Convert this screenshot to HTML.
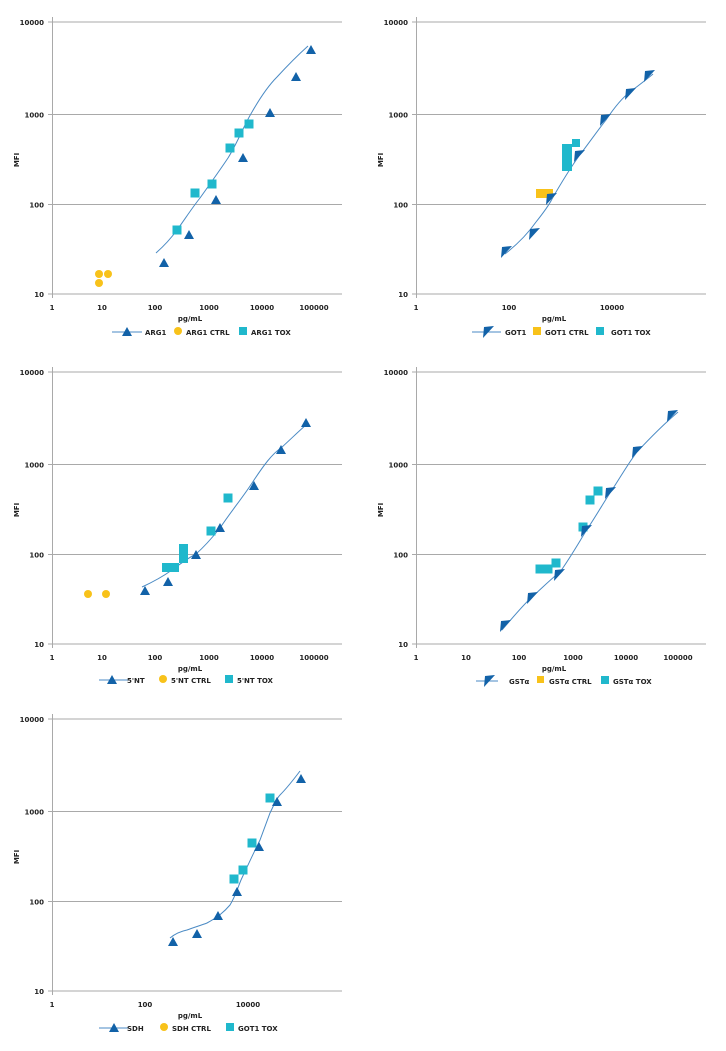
<!DOCTYPE html>
<html><head><meta charset="utf-8"><style>
html,body{margin:0;padding:0;background:#fff;}
svg{display:block;}
text{font-family:"DejaVu Sans","Liberation Sans",sans-serif;font-size:7px;fill:#222;font-weight:bold;}
.g{stroke:#a9a9a9;stroke-width:1;fill:none;}
.c{stroke:#4a8ac4;stroke-width:1;fill:none;}
.t{fill:#1262a8;}
.s{fill:#20b8cc;}
.y{fill:#f8c21a;}
</style></head><body>
<svg width="726" height="1051" viewBox="0 0 726 1051" xmlns="http://www.w3.org/2000/svg">
<defs>
<polygon id="tri" class="t" points="0,-5 5,4 -5,4"/>
<polygon id="arr" class="t" points="-4,-5 6,-6 -5,6"/>
<rect id="sq" class="s" x="-4.5" y="-4.5" width="9" height="9"/>
<g id="frame">
<line class="g" x1="48" y1="22" x2="342" y2="22"/>
<line class="g" x1="48" y1="114.5" x2="342" y2="114.5"/>
<line class="g" x1="48" y1="204.5" x2="342" y2="204.5"/>
<line class="g" x1="48" y1="294" x2="342" y2="294"/>
<line class="g" x1="52.5" y1="17" x2="52.5" y2="298"/>
<text x="44" y="25" text-anchor="end">10000</text>
<text x="44" y="117.5" text-anchor="end">1000</text>
<text x="44" y="207.5" text-anchor="end">100</text>
<text x="44" y="297" text-anchor="end">10</text>
<text x="190" y="321" text-anchor="middle">pg/mL</text>
<text transform="translate(19,160) rotate(-90)" text-anchor="middle">MFI</text>
</g>
<g id="x6">
<text x="52" y="310" text-anchor="middle">1</text>
<text x="102" y="310" text-anchor="middle">10</text>
<text x="155" y="310" text-anchor="middle">100</text>
<text x="209" y="310" text-anchor="middle">1000</text>
<text x="262" y="310" text-anchor="middle">10000</text>
<text x="314" y="310" text-anchor="middle">100000</text>
</g>
<g id="x3">
<text x="52" y="310" text-anchor="middle">1</text>
<text x="145" y="310" text-anchor="middle">100</text>
<text x="248" y="310" text-anchor="middle">10000</text>
</g>
</defs>

<!-- Chart 1 ARG1 -->
<g>
<use href="#frame"/><use href="#x6"/>
<path class="c" d="M156,253 C165,245 172,237 177,230 C185,219 192,208 200,198 C210,184 220,170 228,158 C238,142 244,125 252,112 C260,98 268,86 277,77 C288,65 298,55 308,46"/>
<circle class="y" cx="99" cy="274" r="4"/><circle class="y" cx="108" cy="274" r="4"/><circle class="y" cx="99" cy="283" r="4"/>
<use href="#tri" x="164" y="263"/><use href="#tri" x="189" y="235"/><use href="#tri" x="216" y="200"/><use href="#tri" x="243" y="158"/><use href="#tri" x="270" y="113"/><use href="#tri" x="296" y="77"/><use href="#tri" x="311" y="50"/>
<use href="#sq" x="177" y="230"/><use href="#sq" x="195" y="193"/><use href="#sq" x="212" y="184"/><use href="#sq" x="230" y="148"/><use href="#sq" x="239" y="133"/><use href="#sq" x="249" y="124"/>
<line class="c" x1="112" y1="332" x2="142" y2="332"/><use href="#tri" x="127" y="332"/>
<text x="145" y="335">ARG1</text>
<circle class="y" cx="178" cy="331" r="4"/><text x="186" y="335">ARG1 CTRL</text>
<rect class="s" x="239" y="327" width="8" height="8"/><text x="251" y="335">ARG1 TOX</text>
</g>

<!-- Chart 2 GOT1 -->
<g transform="translate(364,0)">
<use href="#frame"/><use href="#x3"/>
<path class="c" d="M141,254 C155,243 165,232 172,222 C180,212 185,205 188,199 C196,185 205,170 215,156 C225,143 234,130 242,120 C250,108 258,98 266,92 C275,85 282,80 289,74"/>
<rect class="y" x="172" y="189" width="17" height="9"/>
<rect class="s" x="198" y="144" width="10" height="27"/><rect class="s" x="208" y="139" width="8" height="8"/>
<use href="#arr" x="142" y="252"/><use href="#arr" x="170" y="234"/><use href="#arr" x="187" y="199"/><use href="#arr" x="215" y="156"/><use href="#arr" x="241" y="120"/><use href="#arr" x="266" y="94"/><use href="#arr" x="285" y="76"/>
<line class="c" x1="108" y1="332" x2="137" y2="332"/><use href="#arr" x="124" y="332"/>
<text x="141" y="335">GOT1</text>
<rect class="y" x="169" y="327" width="8" height="8"/><text x="181" y="335">GOT1 CTRL</text>
<rect class="s" x="232" y="327" width="8" height="8"/><text x="247" y="335">GOT1 TOX</text>
</g>

<!-- Chart 3 5'NT -->
<g transform="translate(0,350)">
<use href="#frame"/><use href="#x6"/>
<path class="c" d="M142,237 C155,231 165,225 172,220 C180,214 188,208 196,204 C205,196 212,188 220,178 C232,160 244,146 254,130 C264,115 272,104 281,98 C292,88 300,80 306,75"/>
<circle class="y" cx="88" cy="244" r="4"/><circle class="y" cx="106" cy="244" r="4"/>
<rect class="s" x="162" y="213" width="17" height="9"/><rect class="s" x="179" y="194" width="9" height="19"/>
<use href="#sq" x="211" y="181"/><use href="#sq" x="228" y="148"/>
<use href="#tri" x="145" y="241"/><use href="#tri" x="168" y="232"/><use href="#tri" x="196" y="205"/><use href="#tri" x="220" y="178"/><use href="#tri" x="254" y="136"/><use href="#tri" x="281" y="100"/><use href="#tri" x="306" y="73"/>
<line class="c" x1="99" y1="330" x2="128" y2="330"/><use href="#tri" x="112" y="330"/>
<text x="127" y="333">5'NT</text>
<circle class="y" cx="163" cy="329" r="4"/><text x="171" y="333">5'NT CTRL</text>
<rect class="s" x="225" y="325" width="8" height="8"/><text x="237" y="333">5'NT TOX</text>
</g>

<!-- Chart 4 GSTa -->
<g transform="translate(364,350)">
<use href="#frame"/><use href="#x6"/>
<path class="c" d="M138,280 C150,266 160,254 168,247 C178,238 188,228 196,222 C206,208 214,194 222,181 C232,166 240,152 246,143 C256,128 265,112 273,102 C286,88 300,74 314,62"/>
<use href="#sq" x="176" y="219"/><use href="#sq" x="184" y="219"/><use href="#sq" x="192" y="213"/><use href="#sq" x="219" y="177"/><use href="#sq" x="226" y="150"/><use href="#sq" x="234" y="141"/>
<use href="#arr" x="141" y="276"/><use href="#arr" x="168" y="248"/><use href="#arr" x="195" y="225"/><use href="#arr" x="222" y="181"/><use href="#arr" x="246" y="143"/><use href="#arr" x="273" y="102"/><use href="#arr" x="308" y="66"/>
<line class="c" x1="112" y1="331" x2="134" y2="331"/><use href="#arr" x="125" y="331"/>
<text x="145" y="334">GSTα</text>
<rect class="y" x="173" y="326" width="7" height="7"/><text x="185" y="334">GSTα CTRL</text>
<rect class="s" x="237" y="326" width="8" height="8"/><text x="249" y="334">GSTα TOX</text>
</g>

<!-- Chart 5 SDH -->
<g transform="translate(0,697)">
<use href="#frame"/><use href="#x3"/>
<path class="c" d="M170,241 C176,236 182,234 187,233 C195,230 202,228 207,226 C218,220 224,215 230,208 C236,198 238,190 241,183 C248,168 254,155 260,143 C264,132 267,124 270,116 C274,108 276,102 280,98 C288,90 294,82 300,74"/>
<use href="#sq" x="234" y="182"/><use href="#sq" x="243" y="173"/><use href="#sq" x="252" y="146"/><use href="#sq" x="270" y="101"/>
<use href="#tri" x="173" y="245"/><use href="#tri" x="197" y="237"/><use href="#tri" x="218" y="219"/><use href="#tri" x="237" y="195"/><use href="#tri" x="259" y="150"/><use href="#tri" x="277" y="105"/><use href="#tri" x="301" y="82"/>
<line class="c" x1="99" y1="331" x2="128" y2="331"/><use href="#tri" x="114" y="331"/>
<text x="127" y="334">SDH</text>
<circle class="y" cx="164" cy="330" r="4"/><text x="172" y="334">SDH CTRL</text>
<rect class="s" x="226" y="326" width="8" height="8"/><text x="238" y="334">GOT1 TOX</text>
</g>
</svg>
</body></html>
